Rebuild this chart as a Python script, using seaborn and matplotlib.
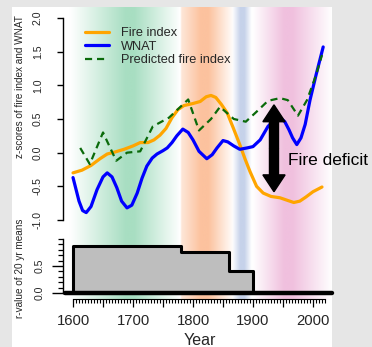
import numpy as np
import pandas as pd
import matplotlib
matplotlib.use("Agg")
import matplotlib.pyplot as plt
import seaborn as sns
from matplotlib.patches import Rectangle, FancyArrow

# ---------------- data ----------------
fire_years = [1600, 1615, 1630, 1645, 1657, 1670, 1685, 1700, 1712, 1725, 1735, 1745,
              1755, 1765, 1775, 1785, 1800, 1812, 1822, 1830, 1838, 1847, 1857, 1867,
              1878, 1887, 1895, 1906, 1917, 1930, 1945, 1958, 1968, 1978, 1988, 2000, 2015]
fire_vals = [-0.30, -0.26, -0.19, -0.09, -0.02, 0.01, 0.05, 0.10, 0.15, 0.15, 0.19, 0.26,
             0.36, 0.52, 0.64, 0.70, 0.73, 0.76, 0.83, 0.85, 0.82, 0.72, 0.59, 0.37,
             0.12, -0.10, -0.28, -0.50, -0.60, -0.65, -0.67, -0.71, -0.74, -0.72, -0.66, -0.58, -0.51]

wnat_years = [1600, 1610, 1616, 1622, 1630, 1640, 1650, 1657, 1665, 1673, 1681, 1690,
              1698, 1707, 1715, 1723, 1732, 1740, 1750, 1757, 1765, 1773, 1783, 1792,
              1800, 1810, 1823, 1832, 1840, 1850, 1858, 1868, 1878, 1890, 1900, 1912,
              1925, 1935, 1945, 1953, 1960, 1966, 1973, 1980, 1987, 1995, 2005, 2017]
wnat_vals = [-0.37, -0.72, -0.86, -0.89, -0.80, -0.55, -0.36, -0.30, -0.36, -0.52, -0.72, -0.82,
             -0.78, -0.60, -0.38, -0.20, -0.08, -0.02, 0.03, 0.07, 0.15, 0.25, 0.35, 0.30,
             0.19, 0.02, -0.09, -0.03, 0.07, 0.18, 0.16, 0.10, 0.05, 0.07, 0.09, 0.19,
             0.39, 0.48, 0.52, 0.46, 0.34, 0.22, 0.12, 0.22, 0.42, 0.78, 1.15, 1.57]

pred_years = [1612, 1628, 1650, 1672, 1690, 1712, 1733, 1760, 1792, 1810, 1830, 1845,
              1868, 1888, 1905, 1925, 1945, 1958, 1975, 1990, 2005, 2015]
pred_vals = [0.07, -0.17, 0.30, -0.12, 0.00, 0.02, 0.39, 0.52, 0.79, 0.33, 0.50, 0.68,
             0.50, 0.46, 0.60, 0.77, 0.81, 0.78, 0.55, 0.78, 1.15, 1.45]

r_edges = [1600, 1780, 1860, 1900]
r_vals = [0.87, 0.76, 0.41]

series_labels = ["Fire index", "WNAT", "Predicted fire index"]
top_yticks = [-1.0, -0.5, 0.0, 0.5, 1.0, 1.5, 2.0]
bottom_yticks = [0.0, 0.5]
year_labels = [1600, 1700, 1800, 1900, 2000]

arrow_year = 1935
arrow_top = 0.71
arrow_bottom = -0.58

# background period bands: (alpha profile years, alpha values, colour)
bands = [
    ([1595, 1688, 1702, 1772, 1778], [0, 1, 1, 0.1, 0], (168, 222, 194)),
    ([1779, 1781, 1813, 1826, 1868], [0, 0.4, 1, 1, 0], (252, 194, 158)),
    ([1866, 1879, 1886, 1898], [0, 1, 1, 0], (198, 210, 234)),
    ([1900, 1952, 1966, 2032], [0, 1, 1, 0], (240, 192, 222)),
]

# ---------------- figure ----------------
sns.set_theme(style="white")
plt.rcParams["font.family"] = ["Liberation Sans", "DejaVu Sans"]

W, H = 372, 347
def fx(px):
    return px / W
def fy(py):
    return 1 - py / H

fig = plt.figure(figsize=(W / 100, H / 100), dpi=100, facecolor="#e6e6e6")
fig.patches.append(Rectangle((fx(12), 0), fx(332) - fx(12), fy(7), transform=fig.transFigure,
                             facecolor="white", edgecolor="none", zorder=-10))

XL = (1583.3, 2031.7)

# background gradient bands
bg = fig.add_axes([fx(63), fy(300), fx(332) - fx(63), fy(7) - fy(300)], zorder=0)
cols = np.linspace(XL[0], XL[1], 800)
img = np.ones((1, len(cols), 3))
for yrs, al, c in bands:
    a = np.interp(cols, yrs, al, left=0, right=0)
    cc = np.array(c) / 255.0
    img[0] = img[0] * (1 - a[:, None]) + cc[None, :] * a[:, None]
bg.imshow(img, extent=[XL[0], XL[1], 0, 1], aspect="auto", interpolation="bilinear")
bg.set_xlim(XL)
bg.set_ylim(0, 1)
bg.axis("off")

# ---------------- top panel ----------------
ax = fig.add_axes([fx(63), fy(220), fx(332) - fx(63), fy(18) - fy(220)], zorder=2)
ax.set_facecolor("none")
sns.lineplot(x=fire_years, y=fire_vals, ax=ax, color="orange", linewidth=2.3,
             label=series_labels[0], estimator=None, sort=False)
sns.lineplot(x=wnat_years, y=wnat_vals, ax=ax, color="blue", linewidth=2.3,
             label=series_labels[1], estimator=None, sort=False)
sns.lineplot(x=pred_years, y=pred_vals, ax=ax, color="#0a6a0a", linewidth=1.6,
             label=series_labels[2], estimator=None, sort=False, linestyle="--")
for ln in ax.get_lines():
    ln.set_clip_on(False)
ax.get_lines()[2].set_dashes([3.2, 2.2])

mid = (arrow_top + arrow_bottom) / 2
for end in (arrow_top, arrow_bottom):
    ax.add_patch(FancyArrow(arrow_year, mid, 0, end - mid, width=15, head_width=37,
                            head_length=0.25, length_includes_head=True,
                            color="black", clip_on=False, zorder=5))
ax.text(1958, -0.12, "Fire deficit", fontsize=12.5, va="center", ha="left",
        clip_on=False, color="black")

ax.set_xlim(XL)
ax.set_ylim(-1, 2)
for s in ["top", "right", "bottom"]:
    ax.spines[s].set_visible(False)
ax.spines["left"].set_color("black")
ax.spines["left"].set_linewidth(1.0)
ax.set_xticks([])
ax.set_yticks(top_yticks)
ax.set_yticklabels([f"{v:.1f}" for v in top_yticks])
ax.tick_params(axis="y", left=True, length=4.5, width=1.0, color="black", pad=10,
               labelsize=7.6, labelrotation=90)
for t in ax.get_yticklabels():
    t.set_va("center")
ax.set_xlabel("")
ax.set_ylabel("")

leg = ax.legend(loc="upper left", bbox_to_anchor=(0.082, 0.955), frameon=False,
                fontsize=9.2, handlelength=1.9, handletextpad=0.9, labelspacing=0.12,
                borderpad=0, borderaxespad=0)

# ---------------- bottom panel ----------------
ax2 = fig.add_axes([fx(63), fy(299), fx(332) - fx(63), fy(239) - fy(299)], zorder=2)
ax2.set_facecolor("none")
step_x = [r_edges[0]]
step_y = [0.0]
for i, v in enumerate(r_vals):
    step_x += [r_edges[i], r_edges[i + 1]]
    step_y += [v, v]
step_x.append(r_edges[-1])
step_y.append(0.0)
ax2.fill_between(r_edges, list(r_vals) + [r_vals[-1]], 0, step="post",
                 color="#bebebe", zorder=1)
sns.lineplot(x=step_x, y=step_y, ax=ax2, color="black", linewidth=2.2,
             estimator=None, sort=False, zorder=3)
ax2.axhline(0, xmin=0.007, xmax=1, color="black", linewidth=3.2, clip_on=False, zorder=4)

ax2.set_xlim(XL)
ax2.set_ylim(-6 / 54, 1.0)
for s in ["top", "right"]:
    ax2.spines[s].set_visible(False)
ax2.spines["left"].set_bounds(0, 1)
ax2.spines["bottom"].set_bounds(1600, 2020)
ax2.spines["left"].set_color("black")
ax2.spines["bottom"].set_color("black")
ax2.spines["left"].set_linewidth(1.0)
ax2.spines["bottom"].set_linewidth(0.8)
ax2.set_yticks(bottom_yticks)
ax2.set_yticklabels([f"{v:.1f}" for v in bottom_yticks])
ax2.set_yticks(np.arange(0, 1.01, 0.1), minor=True)
ax2.tick_params(axis="y", which="major", left=True, length=8, width=1.0, color="black",
                pad=5, labelsize=7.6, labelrotation=90)
ax2.tick_params(axis="y", which="minor", left=True, length=3.5, width=0.9, color="black")
for t in ax2.get_yticklabels():
    t.set_va("center")
major_x = list(range(1600, 2001, 50))
ax2.set_xticks(major_x)
ax2.set_xticklabels([str(y) if y in year_labels else "" for y in major_x])
ax2.set_xticks(list(range(1600, 2021, 5)), minor=True)
ax2.tick_params(axis="x", which="major", bottom=True, length=6, width=0.9, color="black",
                pad=5, labelsize=10.7)
ax2.tick_params(axis="x", which="minor", bottom=True, length=3.2, width=0.8, color="black")
ax2.set_xlabel("")
ax2.set_ylabel("")

# axis titles
fig.text(fx(20), fy(87), "z-scores of fire index and WNAT", rotation=90,
         ha="center", va="center", fontsize=7.2)
fig.text(fx(20), fy(268), "r-value of 20 yr means", rotation=90,
         ha="center", va="center", fontsize=7.2)
fig.text(fx(200), fy(333), "Year", ha="center", va="top", fontsize=11.5)

fig.savefig("out.png", dpi=100, facecolor=fig.get_facecolor())
